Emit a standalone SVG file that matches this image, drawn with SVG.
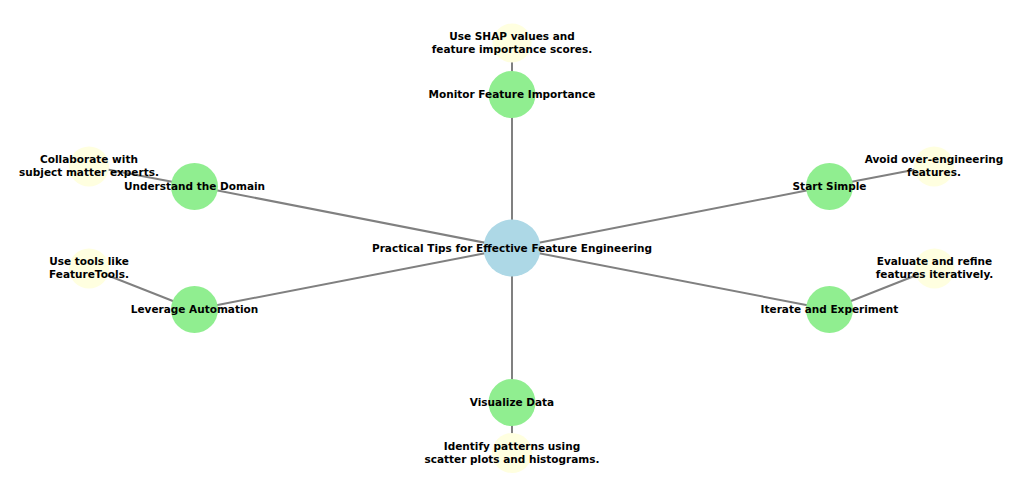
<svg xmlns="http://www.w3.org/2000/svg" width="1024" height="497" viewBox="0 0 1024 497">
<style>
.e{stroke:#808080;stroke-width:2;fill:none}
.c{fill:#ADD8E6}
.g{fill:#90EE90}
.y{fill:#FFFFE0}
text{font-family:"DejaVu Sans",sans-serif;font-weight:bold;font-size:10.5px;fill:#000;text-anchor:middle}
</style>
<rect width="1024" height="497" fill="#fff"/>
<g id="edges">
<line class="e" x1="512" y1="248" x2="512" y2="94"/>
<line class="e" x1="512" y1="94" x2="512" y2="43"/>
<line class="e" x1="512" y1="248" x2="194.5" y2="186"/>
<line class="e" x1="194.5" y1="186" x2="89" y2="166"/>
<line class="e" x1="512" y1="248" x2="829.5" y2="186"/>
<line class="e" x1="829.5" y1="186" x2="934" y2="166"/>
<line class="e" x1="512" y1="248" x2="194.5" y2="309.5"/>
<line class="e" x1="194.5" y1="309.5" x2="89" y2="268"/>
<line class="e" x1="512" y1="248" x2="829.5" y2="309.5"/>
<line class="e" x1="829.5" y1="309.5" x2="934.5" y2="268"/>
<line class="e" x1="512" y1="248" x2="512" y2="402.5"/>
<line class="e" x1="512" y1="402.5" x2="512" y2="453"/>
</g>
<g id="n-center"><circle class="c" cx="512" cy="248" r="28.5"/><text x="512" y="251.5">Practical Tips for Effective Feature Engineering</text></g>
<g id="n-monitor"><circle class="g" cx="512" cy="94.5" r="23.5"/><text x="512" y="98">Monitor Feature Importance</text></g>
<g id="n-shap"><circle class="y" cx="512" cy="43" r="19.5"/><text x="512" y="40">Use SHAP values and</text><text x="512" y="53">feature importance scores.</text></g>
<g id="n-domain"><circle class="g" cx="194.5" cy="186.5" r="23.5"/><text x="194.5" y="190">Understand the Domain</text></g>
<g id="n-collab"><circle class="y" cx="89" cy="166.5" r="20"/><text x="89" y="163">Collaborate with</text><text x="89" y="176">subject matter experts.</text></g>
<g id="n-simple"><circle class="g" cx="829.5" cy="186.5" r="23.5"/><text x="829.5" y="190">Start Simple</text></g>
<g id="n-avoid"><circle class="y" cx="934" cy="166.5" r="20"/><text x="934" y="163">Avoid over-engineering</text><text x="934" y="176">features.</text></g>
<g id="n-automation"><circle class="g" cx="194.5" cy="309.5" r="23.5"/><text x="194.5" y="313">Leverage Automation</text></g>
<g id="n-tools"><circle class="y" cx="89" cy="268.5" r="20"/><text x="89" y="265">Use tools like</text><text x="89" y="278">FeatureTools.</text></g>
<g id="n-iterate"><circle class="g" cx="829.5" cy="309.5" r="23.5"/><text x="829.5" y="313">Iterate and Experiment</text></g>
<g id="n-evaluate"><circle class="y" cx="934.5" cy="268.5" r="20"/><text x="934.5" y="265">Evaluate and refine</text><text x="934.5" y="278">features iteratively.</text></g>
<g id="n-visualize"><circle class="g" cx="512" cy="402.5" r="23.5"/><text x="512" y="406">Visualize Data</text></g>
<g id="n-patterns"><circle class="y" cx="512" cy="453" r="20"/><text x="512" y="450">Identify patterns using</text><text x="512" y="463">scatter plots and histograms.</text></g>
</svg>
